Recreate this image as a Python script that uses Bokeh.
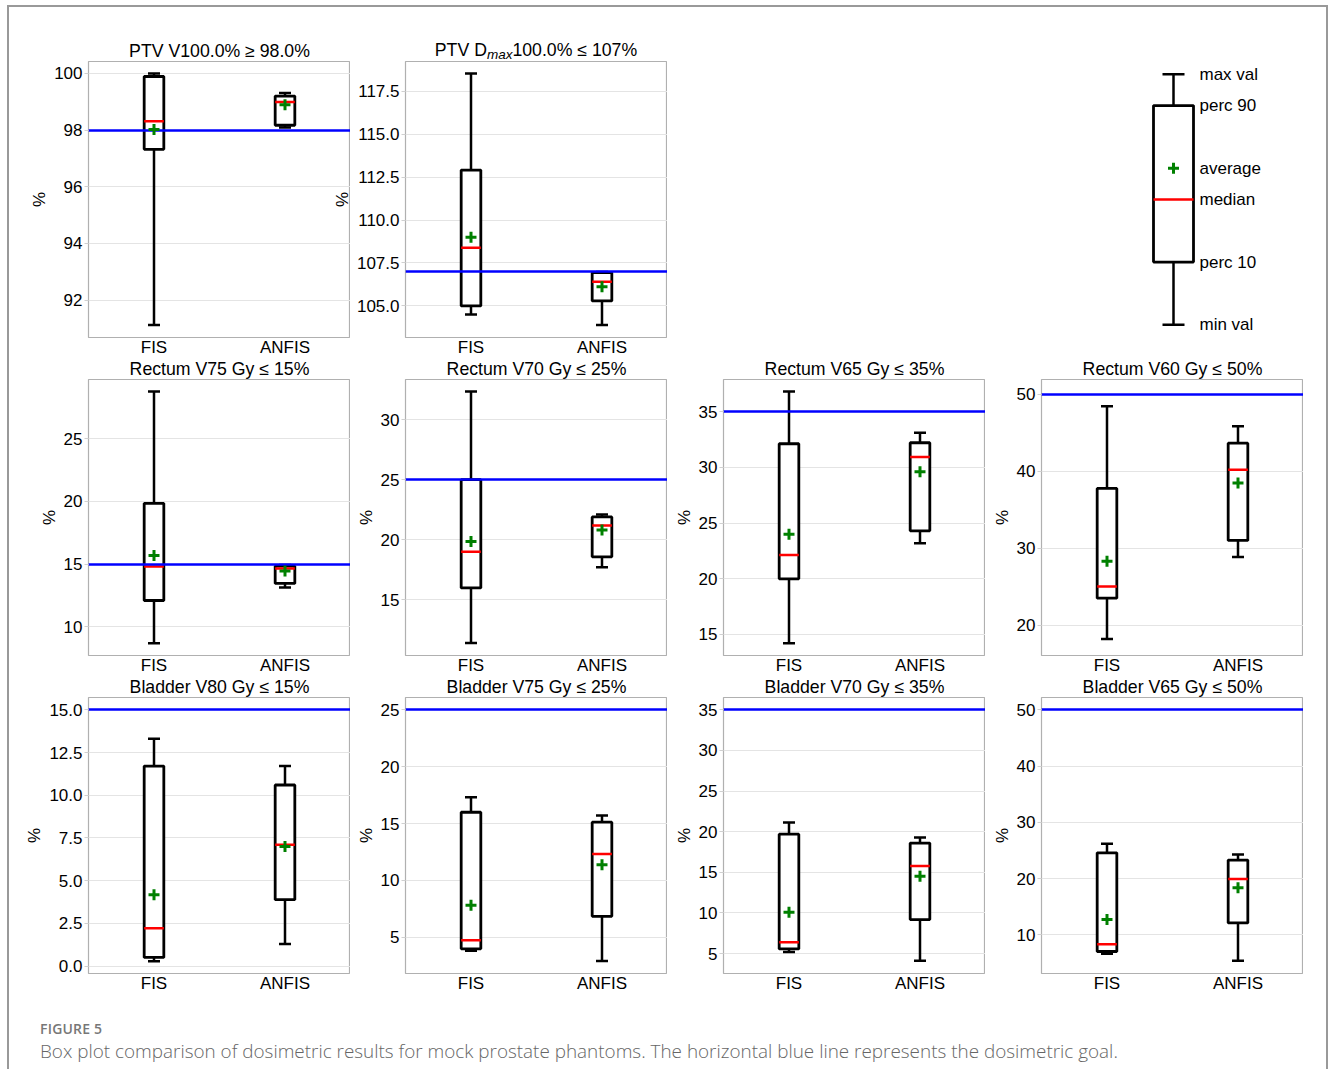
from bokeh.plotting import figure
from bokeh.layouts import row, column
from bokeh.models import (FactorRange, Range1d, FixedTicker, PrintfTickFormatter,
                          Div, Spacer, ColumnDataSource)
from bokeh.core.properties import value
from bokeh.embed import file_html
from bokeh.resources import INLINE

FONT = "Liberation Sans"

# ---------------- data ----------------
groups = ["FIS", "ANFIS"]

panel_titles = [
    "PTV V100.0% \u2265 98.0%",
    "PTV Dmax100.0% \u2264 107%",
    "Rectum V75 Gy \u2264 15%",
    "Rectum V70 Gy \u2264 25%",
    "Rectum V65 Gy \u2264 35%",
    "Rectum V60 Gy \u2264 50%",
    "Bladder V80 Gy \u2264 15%",
    "Bladder V75 Gy \u2264 25%",
    "Bladder V70 Gy \u2264 35%",
    "Bladder V65 Gy \u2264 50%",
]
goal_values = [98.0, 107.0, 15, 25, 35, 50, 15, 25, 35, 50]

fis_min = [91.12, 104.5, 8.7, 11.4, 14.22, 18.22, 0.29, 3.8, 5.2, 6.65]
fis_p10 = [97.32, 105.0, 12.1, 15.99, 20.0, 23.51, 0.51, 3.98, 5.57, 7.06]
fis_median = [98.31, 108.39, 14.81, 19.0, 22.13, 25.03, 2.22, 4.74, 6.39, 8.36]
fis_mean = [98.02, 108.99, 15.69, 19.86, 24.01, 28.32, 4.18, 7.81, 10.07, 12.73]
fis_p90 = [99.89, 112.91, 19.84, 25.0, 32.13, 37.78, 11.71, 15.99, 19.69, 24.6]
fis_max = [100.0, 118.53, 28.74, 32.33, 36.83, 48.48, 13.31, 17.31, 21.12, 26.2]

anfis_min = [98.09, 103.89, 13.14, 17.72, 23.2, 28.86, 1.3, 2.92, 4.1, 5.4]
anfis_p10 = [98.17, 105.29, 13.46, 18.58, 24.31, 31.03, 3.89, 6.84, 9.18, 12.14]
anfis_median = [98.99, 106.40, 14.65, 21.18, 30.93, 40.2, 7.1, 12.31, 15.76, 19.94]
anfis_mean = [98.89, 106.12, 14.44, 20.8, 29.61, 38.5, 7.0, 11.37, 14.5, 18.4]
anfis_p90 = [99.2, 106.94, 14.84, 21.9, 32.22, 43.67, 10.6, 15.12, 18.59, 23.3]
anfis_max = [99.31, 106.98, 14.92, 22.09, 33.11, 45.88, 11.71, 15.7, 19.28, 24.31]

y_lower = [90.68, 103.16, 7.72, 10.37, 13.11, 16.06, -0.43, 1.81, 2.54, 3.15]
y_upper = [100.42, 119.23, 29.70, 33.33, 37.9, 51.95, 15.72, 26.08, 36.51, 52.19]
y_ticks = [
    [92, 94, 96, 98, 100],
    [105.0, 107.5, 110.0, 112.5, 115.0, 117.5],
    [10, 15, 20, 25],
    [15, 20, 25, 30],
    [15, 20, 25, 30, 35],
    [20, 30, 40, 50],
    [0.0, 2.5, 5.0, 7.5, 10.0, 12.5, 15.0],
    [5, 10, 15, 20, 25],
    [5, 10, 15, 20, 25, 30, 35],
    [10, 20, 30, 40, 50],
]
tick_formats = ["%d", "%.1f", "%d", "%d", "%d", "%d", "%.1f", "%d", "%d", "%d"]

legend_labels = ["min val", "perc 10", "median", "average", "perc 90", "max val"]
legend_values = [0, 2, 4, 5, 7, 8]

# ---------------- geometry / style ----------------
FRAME_W, FRAME_H = 262, 276
TOP, BOTTOM = 23, 22
FIG_H = TOP + FRAME_H + BOTTOM
ROW_OVERLAP = 3
BOX_W = 0.15
TITLE_SIZE = "17.7px"


def style_common(fig):
    fig.background_fill_color = "white"
    fig.border_fill_color = None
    fig.outline_line_color = "#b0b0b0"
    fig.outline_line_width = 1.2
    fig.xgrid.grid_line_color = None
    fig.ygrid.grid_line_color = "#e4e4e4"
    fig.ygrid.grid_line_width = 1


def make_panel(i, left_border, margin=None, html_title=False):
    kw = {}
    if margin is not None:
        kw["margin"] = margin
    top = 1 if html_title else TOP
    fig = figure(width=left_border + FRAME_W, height=top + FRAME_H + BOTTOM,
                 x_range=FactorRange(*groups),
                 y_range=Range1d(y_lower[i], y_upper[i]),
                 output_backend="svg", toolbar_location=None,
                 min_border_left=left_border, min_border_right=0,
                 min_border_top=top, min_border_bottom=BOTTOM, **kw)
    style_common(fig)
    if not html_title:
        fig.title.text = panel_titles[i]
        fig.title.align = "center"
        fig.title.text_font = FONT
        fig.title.text_font_size = TITLE_SIZE
        fig.title.text_font_style = "normal"
        fig.title.text_color = "black"
        fig.title.standoff = 1
        fig.title.offset = 0

    src = ColumnDataSource(dict(
        x=groups,
        lo=[fis_min[i], anfis_min[i]],
        p10=[fis_p10[i], anfis_p10[i]],
        med=[fis_median[i], anfis_median[i]],
        mean=[fis_mean[i], anfis_mean[i]],
        p90=[fis_p90[i], anfis_p90[i]],
        hi=[fis_max[i], anfis_max[i]],
    ))
    fig.segment(x0="x", y0="lo", x1="x", y1="hi", line_color="black", line_width=2.5, source=src)
    fig.scatter(x="x", y="lo", marker="dash", size=12, line_color="black", line_width=2.5, source=src)
    fig.scatter(x="x", y="hi", marker="dash", size=12, line_color="black", line_width=2.5, source=src)
    fig.vbar(x="x", width=BOX_W, bottom="p10", top="p90", fill_color="white",
             line_color="black", line_width=2.8, source=src)
    fig.vbar(x="x", width=BOX_W, bottom="med", top="med", fill_alpha=0,
             line_color="red", line_width=2.5, source=src)
    fig.hspan(y=[goal_values[i]], line_color="blue", line_width=2.5)
    fig.scatter(x="x", y="mean", marker="cross", size=11, line_color="green",
                line_width=3, source=src)

    fig.yaxis.ticker = FixedTicker(ticks=y_ticks[i])
    fig.yaxis.formatter = PrintfTickFormatter(format=tick_formats[i])
    fig.yaxis.axis_label = "%"
    fig.yaxis.axis_label_text_font = FONT
    fig.yaxis.axis_label_text_font_size = "17px"
    fig.yaxis.axis_label_text_font_style = "normal"
    fig.yaxis.axis_label_text_color = "black"
    fig.yaxis.axis_label_standoff = 2
    fig.yaxis.major_label_text_font = FONT
    fig.yaxis.major_label_text_font_size = "17px"
    fig.yaxis.major_label_text_color = "black"
    fig.yaxis.major_label_standoff = 2
    fig.yaxis.major_tick_out = 4
    fig.yaxis.major_tick_in = 0
    fig.yaxis.major_tick_line_color = "#d0d0d0"
    fig.yaxis.minor_tick_line_color = None
    fig.yaxis.axis_line_color = None

    fig.xaxis.major_label_text_font = FONT
    fig.xaxis.major_label_text_font_size = "17px"
    fig.xaxis.major_label_text_color = "black"
    fig.xaxis.major_label_standoff = 0
    fig.xaxis.major_tick_out = 0
    fig.xaxis.major_tick_in = 0
    fig.xaxis.major_tick_line_color = None
    fig.xaxis.minor_tick_line_color = None
    fig.xaxis.axis_line_color = None
    return fig


# legend key panel
LEG_W = 636
leg = figure(width=LEG_W, height=FIG_H, x_range=Range1d(-12.65, 3.25),
             y_range=Range1d(-0.41, 8.41), output_backend="svg", toolbar_location=None,
             min_border_left=0, min_border_right=0, min_border_top=TOP,
             min_border_bottom=BOTTOM)
leg.border_fill_color = None
leg.outline_line_color = None
leg.axis.visible = False
leg.grid.visible = False
lsrc = ColumnDataSource(dict(x=[0.0], lo=[legend_values[0]], p10=[legend_values[1]],
                             med=[legend_values[2]], mean=[legend_values[3]],
                             p90=[legend_values[4]], hi=[legend_values[5]]))
leg.segment(x0="x", y0="lo", x1="x", y1="hi", line_color="black", line_width=2.5, source=lsrc)
leg.scatter(x="x", y="lo", marker="dash", size=22, line_color="black", line_width=2.5, source=lsrc)
leg.scatter(x="x", y="hi", marker="dash", size=22, line_color="black", line_width=2.5, source=lsrc)
leg.vbar(x="x", width=1.0, bottom="p10", top="p90", fill_color="white", line_color="black",
         line_width=2.8, source=lsrc)
leg.vbar(x="x", width=1.0, bottom="med", top="med", fill_alpha=0, line_color="red",
         line_width=2.5, source=lsrc)
leg.scatter(x="x", y="mean", marker="cross", size=11, line_color="green", line_width=3, source=lsrc)
leg.text(x=[0.65] * len(legend_labels), y=legend_values, text=legend_labels,
         text_font=value(FONT), text_font_size="17px", text_baseline="middle",
         text_align="left", text_color="black")

col_borders = [66, 76, 56, 56]
col_margins = [None, (0, 0, 0, -21), None, None]

panels = [None] * 10
panels[0] = make_panel(0, col_borders[0])
panels[1] = make_panel(1, col_borders[1], html_title=True)
for r in range(2):
    for c in range(4):
        i = 2 + r * 4 + c
        panels[i] = make_panel(i, col_borders[c], col_margins[c])

# title of panel 2 (needs a subscript) as rich text above its frame
p2_html = (
    '<div style="margin-left:' + str(col_borders[1]) + 'px; width:' + str(FRAME_W) + 'px; '
    'text-align:center; white-space:nowrap; font-family:\'Liberation Sans\'; font-size:' + TITLE_SIZE + '; '
    'line-height:' + str(TOP + 2) + 'px; color:black;">'
    'PTV D<span style="font-size:13.5px; font-style:italic; position:relative; top:3px;">max</span>'
    '100.0% \u2264 107%</div>'
)
p2_title = Div(text=p2_html, width=col_borders[1] + FRAME_W, height=TOP - 1, margin=0)
p2_col = column(p2_title, panels[1], margin=col_margins[1])

LEFT_PAD = 13
row1 = row(Spacer(width=LEFT_PAD), panels[0], p2_col, leg)
row2 = row(Spacer(width=LEFT_PAD), panels[2], panels[3], panels[4], panels[5],
           margin=(-ROW_OVERLAP, 0, 0, 0))
row3 = row(Spacer(width=LEFT_PAD), panels[6], panels[7], panels[8], panels[9],
           margin=(-ROW_OVERLAP, 0, 0, 0))

caption = Div(
    text=('<div style="padding:24px 0 0 31px;">'
          '<div style="font-family:\'Open Sans\'; font-size:14px; font-weight:600; '
          'color:#777777; letter-spacing:0.2px; line-height:19px;">FIGURE 5</div>'
          '<div style="font-family:\'Open Sans\'; font-size:18.9px; font-weight:300; '
          'color:#666666; line-height:26px; white-space:nowrap;">Box plot comparison of dosimetric '
          'results for mock prostate phantoms. The horizontal blue line represents the dosimetric '
          'goal.</div></div>'),
    width=1317, height=74, margin=0)

layout = column(Spacer(height=31), row1, row2, row3, caption,
                margin=(5, 0, 0, 7),
                styles={"border-top": "2px solid #999999",
                        "border-left": "2px solid #999999",
                        "border-right": "2px solid #999999"})

open("out.html", "w").write(file_html(layout, INLINE))
